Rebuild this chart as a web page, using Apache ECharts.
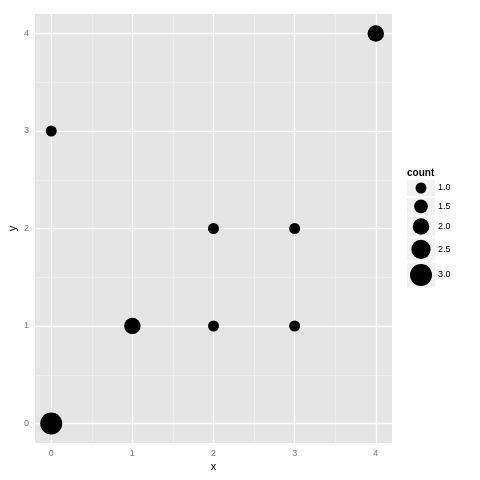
<!DOCTYPE html>
<html><head><meta charset="utf-8">
<script src="https://cdn.jsdelivr.net/npm/echarts@6/dist/echarts.min.js"></script>
<style>html,body{margin:0;padding:0;background:#fff}#c{width:480px;height:480px}</style>
</head><body><div id="c"></div>
<script>
const xs = [0, 0, 1, 2, 2, 3, 3, 4];
const ys = [0, 3, 1, 1, 2, 1, 2, 4];
const counts = [3, 1, 2, 1, 1, 1, 1, 2];
const xTicks = [0, 1, 2, 3, 4];
const yTicks = [0, 1, 2, 3, 4];
const xMinor = [0.5, 1.5, 2.5, 3.5];
const yMinor = [0.5, 1.5, 2.5, 3.5];
const legendCounts = [1.0, 1.5, 2.0, 2.5, 3.0];
const legendTitle = 'count';

function sizeOf(c) { return 5.5 + 5.5 * c; }

const chart = echarts.init(document.getElementById('c'), null, {renderer: 'canvas'});
const FONT = 'Liberation Sans, Arial, sans-serif';

const gridLines = [];
xMinor.forEach(v => gridLines.push({xAxis: v, lineStyle: {color: '#f0f0f0', width: 0.7, type: 'solid'}}));
yMinor.forEach(v => gridLines.push({yAxis: v, lineStyle: {color: '#f0f0f0', width: 0.7, type: 'solid'}}));
xTicks.forEach(v => gridLines.push({xAxis: v, lineStyle: {color: '#ffffff', width: 1.3, type: 'solid'}}));
yTicks.forEach(v => gridLines.push({yAxis: v, lineStyle: {color: '#ffffff', width: 1.3, type: 'solid'}}));

// legend graphics
const legendEls = [];
legendEls.push({type: 'text', left: 407, top: 168, style: {text: legendTitle, font: 'bold 10px ' + FONT, fill: '#000'}});
let yTop = 180;
legendCounts.forEach(c => {
  const d = sizeOf(c);
  const h = Math.max(16, d + 3);
  legendEls.push({type: 'rect', shape: {x: 407, y: yTop, width: 28, height: h}, style: {fill: '#f2f2f2'}});
  legendEls.push({type: 'circle', shape: {cx: 421, cy: yTop + h / 2, r: d / 2}, style: {fill: '#000'}});
  legendEls.push({type: 'text', x: 438, y: yTop + h / 2, style: {text: c.toFixed(1), font: '9px ' + FONT, fill: '#000', verticalAlign: 'middle'}});
  yTop += h + 2;
});

chart.setOption({
  animation: false,
  backgroundColor: '#ffffff',
  grid: {left: 35, right: 88, top: 14, bottom: 37, show: true, backgroundColor: '#e5e5e5', borderWidth: 0, containLabel: false, outerBoundsMode: 'none'},
  xAxis: {
    type: 'value', min: -0.2, max: 4.2,
    name: 'x', nameLocation: 'middle', nameGap: 18, nameMoveOverlap: false,
    nameTextStyle: {color: '#000', fontSize: 11, fontFamily: FONT},
    axisLine: {show: false},
    axisTick: {show: true, customValues: xTicks, length: 4, lineStyle: {color: '#7f7f7f'}},
    axisLabel: {customValues: xTicks, color: '#7f7f7f', fontSize: 9, fontFamily: FONT, margin: 6},
    splitLine: {show: false}
  },
  yAxis: {
    type: 'value', min: -0.2, max: 4.2,
    name: 'y', nameLocation: 'middle', nameGap: 17, nameRotate: 90, nameMoveOverlap: false,
    nameTextStyle: {color: '#000', fontSize: 11, fontFamily: FONT},
    axisLine: {show: false},
    axisTick: {show: true, customValues: yTicks, length: 4, lineStyle: {color: '#7f7f7f'}},
    axisLabel: {customValues: yTicks, color: '#7f7f7f', fontSize: 9, fontFamily: FONT, margin: 6},
    splitLine: {show: false}
  },
  graphic: legendEls,
  series: [
    {
      type: 'scatter', data: [], z: 1, silent: true,
      markLine: {silent: true, z: 1, symbol: 'none', label: {show: false}, animation: false,
                 lineStyle: {type: 'solid'}, emphasis: {disabled: true}, data: gridLines}
    },
    {
      type: 'scatter', z: 3,
      data: xs.map((x, i) => [x, ys[i], counts[i]]),
      symbolSize: v => sizeOf(v[2]),
      itemStyle: {color: '#000', opacity: 1}
    }
  ]
});
</script></body></html>
